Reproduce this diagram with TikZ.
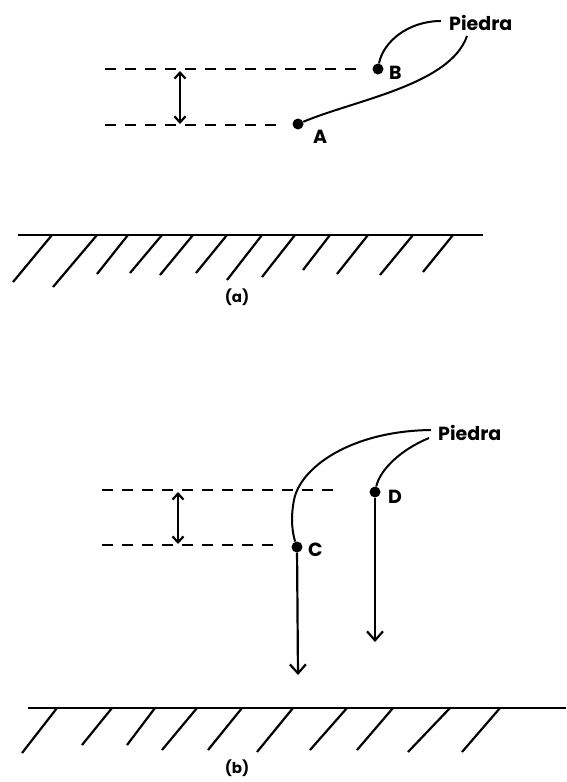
\documentclass[tikz,border=0pt]{standalone}
\usepackage{fontspec}
\setmainfont{Poppins}
\usetikzlibrary{arrows.meta}
\begin{document}
\begin{tikzpicture}[x=1pt,y=-1pt,
  lbl/.style={font=\fontsize{19}{19}\selectfont\bfseries, inner sep=1pt},
  dot/.style={circle, fill=black, inner sep=0pt, minimum size=11pt},
  guide/.style={line width=2.3pt, dash pattern=on 11pt off 9pt},
  lead/.style={line width=2pt},
  dbl/.style={line width=2.2pt, {Straight Barb[length=6pt,width=11pt]}-{Straight Barb[length=6pt,width=11pt]}},
  fall/.style={line width=2.2pt, -{Straight Barb[length=9pt,width=16pt]}},
  ground/.style={line width=2.5pt},
  hatch/.style={line width=2.2pt}]
\useasboundingbox (0,0) rectangle (566,782);

% ---------- (a) ----------
\node[dot] (B) at (378,69) {};
\node[dot] (A) at (298,124) {};
\node[lbl, anchor=west] (Blab) at (388,73) {B};
\node[lbl, anchor=west] (Alab) at (312,137) {A};
\node[lbl, anchor=west] (Pa) at (448,23) {Piedra};
\coordinate (a1) at (105,69);
\coordinate (a2) at (357,69);
\coordinate (a3) at (105,125);
\coordinate (a4) at (280,125);
\draw[guide] (a1) -- (a2);
\draw[guide] (a3) -- (a4);
\coordinate (da1) at (180,71);
\coordinate (da2) at (180,124);
\draw[dbl] (da1) -- (da2);
\coordinate (pa1) at (441,21);
\coordinate (pa2) at (467,36);
\draw[lead] (pa1) .. controls (408,21) and (383,42) .. (B);
\draw[lead] (pa2) .. controls (450,85) and (355,100) .. (A);

% ground (a)
\coordinate (ga1) at (18,235);
\coordinate (ga2) at (483,235);
\draw[ground] (ga1) -- (ga2);
\foreach \tx/\bx/\by in {52/13/282, 97/53/287, 128/97/274, 162/130/273, 193/160/275, 227/196/273, 262/227/280, 295/262/277, 330/303/270, 368/337/274, 413/380/275, 453/423/272}
  \draw[hatch] (\tx,235) -- (\bx,\by);
\node[lbl, font=\fontsize{15}{15}\selectfont\bfseries] (capa) at (237,297) {(a)};

% ---------- (b) ----------
\node[dot] (D) at (375,492) {};
\node[dot] (C) at (297,547) {};
\node[lbl, anchor=west] (Dlab) at (387,497) {D};
\node[lbl, anchor=west] (Clab) at (307,550) {C};
\node[lbl, anchor=west] (Pb) at (437,433) {Piedra};
\coordinate (b1) at (102,490);
\coordinate (b2) at (337,490);
\coordinate (b3) at (102,545);
\coordinate (b4) at (275,545);
\draw[guide] (b1) -- (b2);
\draw[guide] (b3) -- (b4);
\coordinate (db1) at (178,492);
\coordinate (db2) at (178,544);
\draw[dbl] (db1) -- (db2);
\coordinate (pb1) at (431,430);
\coordinate (pb2) at (429,438);
\draw[lead] (pb1) .. controls (350,431) and (300,468) .. (294,500) .. controls (290,520) and (293,535) .. (C);
\draw[lead] (pb2) .. controls (400,450) and (380,470) .. (D);
\coordinate (Cend) at (298,675);
\coordinate (Dend) at (375,642);
\draw[fall] (C) -- (Cend);
\draw[fall] (D) -- (Dend);

% ground (b)
\coordinate (gb1) at (28,708);
\coordinate (gb2) at (566,708);
\draw[ground] (gb1) -- (gb2);
\foreach \tx/\bx/\by in {57/22/753, 112/82/745, 155/127/745, 197/162/750, 242/208/750, 293/257/752, 347/310/750, 393/357/750, 450/408/752, 500/462/752}
  \draw[hatch] (\tx,708) -- (\bx,\by);
\node[lbl, font=\fontsize{15}{15}\selectfont\bfseries] (capb) at (237,768) {(b)};
\end{tikzpicture}
\end{document}
